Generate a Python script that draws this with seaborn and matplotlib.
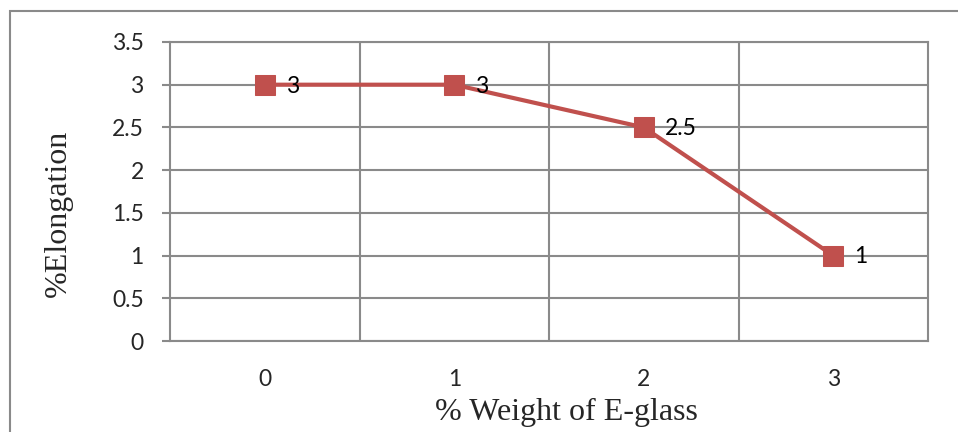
import matplotlib
matplotlib.use('Agg')
import matplotlib.pyplot as plt
import seaborn as sns
import pandas as pd
from matplotlib.patches import Rectangle

# data
weight_labels = ['0', '1', '2', '3']
elongation = [3, 3, 2.5, 1]
y_ticks = [0, 0.5, 1, 1.5, 2, 2.5, 3, 3.5]

df = pd.DataFrame({'pos': range(len(weight_labels)), 'elong': elongation})

sns.set_style('white')
plt.rcParams['font.family'] = ['Lato', 'DejaVu Sans']

fig = plt.figure(figsize=(9.58, 4.32), dpi=100)
ax = fig.add_axes([0.1775, 0.2106, 0.7912, 0.6922])

# outer chart frame (runs off the right and bottom edges)
fig.patches.append(Rectangle((10 / 958, -0.05), 1.2, 1 - 11 / 432 + 0.05,
                             transform=fig.transFigure, fill=False,
                             edgecolor='#8a8a8a', linewidth=1.5))

red = '#C0504D'
sns.lineplot(data=df, x='pos', y='elong', ax=ax, color=red, linewidth=3,
             marker='s', markersize=14, markeredgecolor=red, zorder=3)

for x, v in zip(df['pos'], elongation):
    ax.annotate(f'{v:g}', (x, v), xytext=(15, -1), textcoords='offset points',
                ha='left', va='center', fontsize=16.5, color='black')

ax.set_xlim(-0.5, len(weight_labels) - 0.5)
ax.set_ylim(0, 3.5)
ax.set_yticks(y_ticks)
ax.set_yticklabels([f'{t:g}' for t in y_ticks])
ax.set_xticks(range(len(weight_labels)))
ax.set_xticklabels(weight_labels)

# vertical grid on category boundaries
for b in [0.5, 1.5, 2.5]:
    ax.axvline(b, color='#8a8a8a', linewidth=1.5, zorder=1)
for t in y_ticks:
    ax.axhline(t, color='#8a8a8a', linewidth=1.5, zorder=1)

for s in ax.spines.values():
    s.set_color('#8a8a8a')
    s.set_linewidth(1.5)

ax.tick_params(axis='y', length=6, width=1.5, color='#8a8a8a', labelsize=16.5, pad=13, left=True)
ax.tick_params(axis='x', length=0, labelsize=16.5, pad=20)

ax.set_xlabel('% Weight of E-glass', family='Liberation Serif', fontsize=23)
ax.set_ylabel('%Elongation', family='Liberation Serif', fontsize=23)
ax.xaxis.set_label_coords(0.523, -0.19)
ax.yaxis.set_label_coords(-0.128, 0.428)

fig.savefig('out.png', dpi=100)
